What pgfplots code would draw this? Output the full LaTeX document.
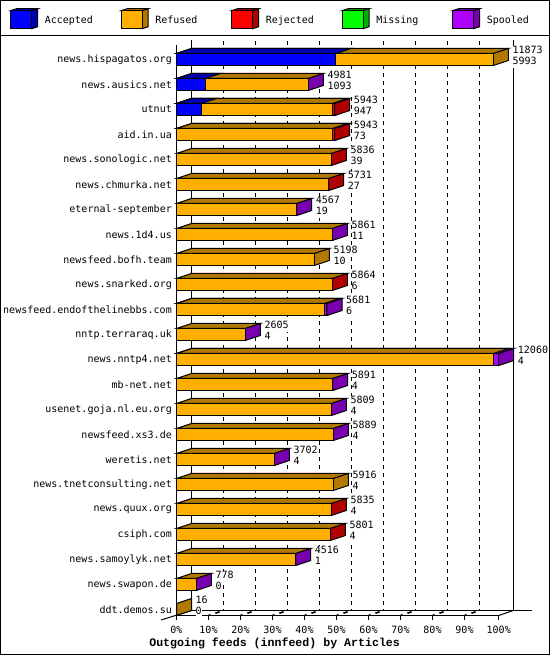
\documentclass[border=0pt]{standalone}
\usepackage{fontspec}
\setmainfont{Liberation Mono}
\setmonofont{DejaVu Sans Mono}
\usepackage{pgfplots}
\usepackage{pgfplotstable}
\pgfplotsset{compat=1.18}
\definecolor{cAcc}{HTML}{0000FF}\definecolor{dAcc}{HTML}{0000B1}
\definecolor{cRef}{HTML}{FFAF00}\definecolor{dRef}{HTML}{B17900}
\definecolor{cRej}{HTML}{FF0000}\definecolor{dRej}{HTML}{B10000}
\definecolor{cMis}{HTML}{00FF00}\definecolor{dMis}{HTML}{00B100}
\definecolor{cSpo}{HTML}{AF00FF}\definecolor{dSpo}{HTML}{7900B1}
% row = 22 - position from the top; columns are the right ends (percent scale) of each stacked part
\pgfplotstableread{
row acc ref rej spo end total lower
22 49.84 99.03 nan nan 99.03 11873 5993
21 9.03 41.22 nan 41.22 41.22 4981 1093
20 7.78 48.72 49.44 nan 49.44 5943 947
19 nan 48.72 49.44 nan 49.44 5943 73
18 nan 48.41 48.41 nan 48.41 5836 39
17 nan 47.56 47.56 nan 47.56 5731 27
16 nan 37.56 nan 37.56 37.56 4567 19
15 nan 48.72 nan 48.72 48.72 5861 11
14 nan 43.09 nan nan 43.09 5198 10
13 nan 48.72 48.72 nan 48.72 5864 6
12 nan 46.22 nan 47.03 47.03 5681 6
11 nan 21.53 nan 21.53 21.53 2605 4
10 nan 99.03 nan 100.7 100.7 12060 4
9 nan 48.81 nan 48.81 48.81 5891 4
8 nan 48.41 nan 48.41 48.41 5809 4
7 nan 49.03 nan 49.03 49.03 5889 4
6 nan 30.6 nan 30.6 30.6 3702 4
5 nan 49.03 nan nan 49.03 5916 4
4 nan 48.41 48.41 nan 48.41 5835 4
3 nan 48.09 48.09 nan 48.09 5801 4
2 nan 37.25 nan 37.25 37.25 4516 1
1 nan 6.22 nan 6.22 6.22 778 0
0 nan 0 nan nan 0 16 0
}\feeds
\newcommand\topface[3]{% row, end, colour
  \pgfmathsetmacro\ya{#1+0.24}\pgfmathsetmacro\yb{#1+0.44}\pgfmathsetmacro\xb{#2+4.6875}
  \edef\tmp{\noexpand\addplot[forget plot,black,line width=1pt,fill=#3,line join=miter] coordinates {(0,\ya)(#2,\ya)(\xb,\yb)(4.6875,\yb)} --cycle;}\tmp}
\newcommand\sideface[3]{% row, end, colour
  \pgfmathsetmacro\ya{#1+0.24}\pgfmathsetmacro\yb{#1+0.44}\pgfmathsetmacro\yc{#1-0.24}\pgfmathsetmacro\yd{#1-0.04}\pgfmathsetmacro\xb{#2+4.6875}
  \edef\tmp{\noexpand\addplot[forget plot,black,line width=1pt,fill=#3,line join=miter] coordinates {(#2,\ya)(\xb,\yb)(\xb,\yd)(#2,\yc)} --cycle;}\tmp}
\pgfplotsset{swatch/.style 2 args={legend image code/.code={
  \path[draw=none,fill=none] (0pt,-9pt) rectangle (34.2pt,11pt);
  \draw[black,line width=1pt,fill=#2] (0pt,9pt)--(6pt,11pt)--(27pt,11pt)--(21pt,9pt)--cycle;
  \draw[black,line width=1pt,fill=#2] (21pt,9pt)--(27pt,11pt)--(27pt,-7pt)--(21pt,-9pt)--cycle;
  \draw[black,line width=1pt,fill=#1] (0pt,-9pt) rectangle (21pt,9pt);
}}}
\newcommand\lgd[1]{\makebox[75.8pt][l]{\raisebox{-1.5pt}{#1}}}
\begin{document}
\begin{tikzpicture}[x=1pt,y=1pt]
\path[use as bounding box] (0,0) rectangle (550,655);
\begin{axis}[
  at={(176.5pt,39.5pt)},anchor=south west,
  scale only axis,width=322.24pt,height=570.5pt,
  xmin=0,xmax=100.7,ymin=-0.24,ymax=22.58,
  clip=false,
  axis x line=bottom,axis y line=left,
  axis line style={-,black,line width=1pt},
  tick align=outside,
  xtick={0,10,20,30,40,50,60,70,80,90,100.7},
  xticklabels={0\%,10\%,20\%,30\%,40\%,50\%,60\%,70\%,80\%,90\%,100\%},
  xtick style={black,line width=1pt},
  major tick length=4.5pt,
  ytick={0,...,22},
  ytick style={draw=none},
  yticklabels={ddt.demos.su,news.swapon.de,news.samoylyk.net,csiph.com,news.quux.org,news.tnetconsulting.net,weretis.net,newsfeed.xs3.de,usenet.goja.nl.eu.org,mb-net.net,news.nntp4.net,nntp.terraraq.uk,newsfeed.endofthelinebbs.com,news.snarked.org,newsfeed.bofh.team,news.1d4.us,eternal-september,news.chmurka.net,news.sonologic.net,aid.in.ua,utnut,news.ausics.net,news.hispagatos.org},
  tick label style={font=\ttfamily\fontsize{10}{10}\selectfont,text=black,inner sep=0pt},
  xticklabel style={yshift=-5.5pt},
  yticklabel style={xshift=0pt},
  xlabel={\bfseries Outgoing feeds (innfeed) by Articles},
  xlabel style={font=\fontsize{11.6}{12}\selectfont,text=black,inner sep=0pt,xshift=-63pt,yshift=-4pt},
  legend columns=5,
  legend cell align=left,
  legend style={at={(axis cs:-52,23.63)},anchor=west,draw=none,fill=none,inner sep=0pt,outer sep=0pt,
    nodes={inner sep=0pt,outer sep=0pt,font=\ttfamily\fontsize{10}{10}\selectfont,text=black},
    /tikz/column sep=0pt,/tikz/row sep=0pt},
]
\addlegendimage{swatch={cAcc}{dAcc}}\addlegendentry{\lgd{Accepted}}
\addlegendimage{swatch={cRef}{dRef}}\addlegendentry{\lgd{Refused}}
\addlegendimage{swatch={cRej}{dRej}}\addlegendentry{\lgd{Rejected}}
\addlegendimage{swatch={cMis}{dMis}}\addlegendentry{\lgd{Missing}}
\addlegendimage{swatch={cSpo}{dSpo}}\addlegendentry{\lgd{Spooled}}
% back plane and floor
\addplot[forget plot,black,line width=1pt] coordinates {(4.6875,22.78)(4.6875,-0.04)};
\addplot[forget plot,black,line width=1pt] coordinates {(105.25,22.78)(105.25,-0.04)};
\addplot[forget plot,black,line width=1pt] coordinates {(4.6875,-0.04)(111.1,-0.04)};
\addplot[forget plot,black,line width=1pt] coordinates {(-4.84,-0.42)(4.6875,-0.04)};
\addplot[forget plot,black,line width=1pt] coordinates {(100.7,-0.24)(105.25,-0.04)};
% grid
\pgfplotsinvokeforeach{10,20,30,40,50,60,70,80,90}{
  \pgfmathsetmacro\gx{#1+4.6875}
  \edef\tmp{\noexpand\addplot[forget plot,black,line width=1pt,dash pattern=on 4pt off 4pt] coordinates {(\gx,22.74)(\gx,-0.04)};}\tmp
  \edef\tmp{\noexpand\addplot[forget plot,black,line width=1.6pt,dash pattern=on 2.2pt off 5pt on 4.5pt off 10pt] coordinates {(#1,-0.24)(\gx,-0.04)};}\tmp
}
% depth faces
\topface{22}{99.03}{dRef}\topface{22}{49.84}{dAcc}\sideface{22}{99.03}{dRef}
\topface{21}{41.22}{dRef}\topface{21}{9.03}{dAcc}\sideface{21}{41.22}{dSpo}
\topface{20}{49.44}{dRej}\topface{20}{48.72}{dRef}\topface{20}{7.78}{dAcc}\sideface{20}{49.44}{dRej}
\topface{19}{49.44}{dRej}\topface{19}{48.72}{dRef}\sideface{19}{49.44}{dRej}
\topface{18}{48.41}{dRef}\sideface{18}{48.41}{dRej}
\topface{17}{47.56}{dRef}\sideface{17}{47.56}{dRej}
\topface{16}{37.56}{dRef}\sideface{16}{37.56}{dSpo}
\topface{15}{48.72}{dRef}\sideface{15}{48.72}{dSpo}
\topface{14}{43.09}{dRef}\sideface{14}{43.09}{dRef}
\topface{13}{48.72}{dRef}\sideface{13}{48.72}{dRej}
\topface{12}{47.03}{dSpo}\topface{12}{46.22}{dRef}\sideface{12}{47.03}{dSpo}
\topface{11}{21.53}{dRef}\sideface{11}{21.53}{dSpo}
\topface{10}{100.7}{dSpo}\topface{10}{99.03}{dRef}\sideface{10}{100.7}{dSpo}
\topface{9}{48.81}{dRef}\sideface{9}{48.81}{dSpo}
\topface{8}{48.41}{dRef}\sideface{8}{48.41}{dSpo}
\topface{7}{49.03}{dRef}\sideface{7}{49.03}{dSpo}
\topface{6}{30.6}{dRef}\sideface{6}{30.6}{dSpo}
\topface{5}{49.03}{dRef}\sideface{5}{49.03}{dRef}
\topface{4}{48.41}{dRef}\sideface{4}{48.41}{dRej}
\topface{3}{48.09}{dRef}\sideface{3}{48.09}{dRej}
\topface{2}{37.25}{dRef}\sideface{2}{37.25}{dSpo}
\topface{1}{6.22}{dRef}\sideface{1}{6.22}{dSpo}
\sideface{0}{0}{dRef}
% front faces: longest part first, the shorter ones painted over it
\addplot[forget plot,xbar,bar width=12pt,bar shift=0pt,draw=black,line width=1pt,fill=cSpo] table[x=spo,y=row]{\feeds};
\addplot[forget plot,xbar,bar width=12pt,bar shift=0pt,draw=black,line width=1pt,fill=cRej] table[x=rej,y=row]{\feeds};
\addplot[forget plot,xbar,bar width=12pt,bar shift=0pt,draw=black,line width=1pt,fill=cRef] table[x=ref,y=row]{\feeds};
\addplot[forget plot,xbar,bar width=12pt,bar shift=0pt,draw=black,line width=1pt,fill=cAcc] table[x=acc,y=row]{\feeds};
% value labels
\addplot[forget plot,draw=none,mark=none,point meta=explicit symbolic,nodes near coords,
  nodes near coords align={anchor=west},
  every node near coord/.append style={anchor=west,inner sep=0pt,text=black,fill=white,text height=8pt,text depth=3pt,font=\ttfamily\fontsize{10}{10}\selectfont}]
  table[x expr=\thisrow{end}+5.94,y expr=\thisrow{row}+0.326,meta=total]{\feeds};
\addplot[forget plot,draw=none,mark=none,point meta=explicit symbolic,nodes near coords,
  nodes near coords align={anchor=west},
  every node near coord/.append style={anchor=west,inner sep=0pt,text=black,fill=white,text height=8pt,text depth=3pt,font=\ttfamily\fontsize{10}{10}\selectfont}]
  table[x expr=\thisrow{end}+5.94,y expr=\thisrow{row}-0.114,meta=lower]{\feeds};
\end{axis}
\draw[black,line width=1pt] (0.5,0.5) rectangle (549.5,654.5);
\draw[black,line width=1pt] (0.5,619.5) -- (549.5,619.5);
\end{tikzpicture}
\end{document}
